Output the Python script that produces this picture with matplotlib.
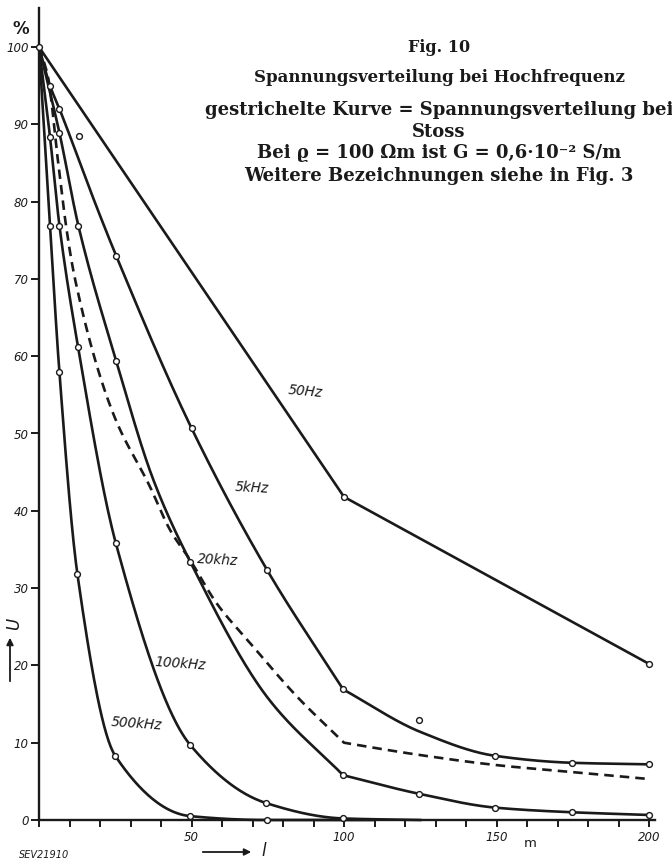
import numpy as np
import matplotlib
matplotlib.use("Agg")
import matplotlib.pyplot as plt

# ---------------- data ----------------
# l in m, U in %
x_50hz = [0, 100, 200]
u_50hz = [100, 41.8, 20.2]

x_5khz_a = [0, 3.6, 6.7, 19.5, 25.4, 50, 74.7, 99.7]
u_5khz_a = [100, 95, 92, 78.7, 72.9, 50.7, 32.4, 16.9]
x_5khz_b = [99.7, 125, 149.6, 174.8, 200]
u_5khz_b = [16.9, 11.4, 8.3, 7.4, 7.2]

x_20khz_a = [0, 6.7, 12.9, 25.3, 37.5, 49.6, 75.2, 99.7]
u_20khz_a = [100, 88.9, 76.9, 59.4, 44, 33.4, 15.7, 5.8]
x_20khz_b = [99.7, 124.5, 149.6, 174.8, 200]
u_20khz_b = [5.8, 3.4, 1.6, 1.0, 0.65]

x_100khz = [0, 3.6, 6.7, 12.8, 25.2, 49.6, 74.4, 99.7, 125]
u_100khz = [100, 88.4, 76.9, 61.2, 35.8, 9.7, 2.2, 0.2, 0]

x_500khz = [0, 3.6, 6.7, 12.6, 25, 49.6, 74.6, 110]
u_500khz = [100, 76.9, 57.9, 31.8, 8.3, 0.5, 0, 0]

x_stoss_a = [0, 3, 6, 9, 11.8, 24.3, 36.4, 43, 49.6, 58.3, 69.2, 84.5, 100]
u_stoss_a = [100, 96, 86, 76.5, 70, 52.6, 43.1, 37.5, 33.6, 28, 22.9, 16, 10]
x_stoss_b = [100, 107.4, 125, 150, 175, 200]
u_stoss_b = [10, 9.5, 8.4, 7.1, 6.2, 5.3]

# measured points (open circles)
mx_50hz = [0, 100, 200]
mu_50hz = [100, 41.8, 20.2]
mx_5khz = [3.6, 6.7, 25.4, 50, 74.7, 99.7, 149.6, 174.8, 200]
mu_5khz = [95, 92, 72.9, 50.7, 32.4, 16.9, 8.3, 7.4, 7.2]
mx_20khz = [6.7, 12.9, 25.3, 49.6, 99.7, 124.5, 149.6, 174.8, 200]
mu_20khz = [88.9, 76.9, 59.4, 33.4, 5.8, 3.4, 1.6, 1.0, 0.65]
mx_100khz = [3.6, 6.7, 12.8, 25.2, 49.6, 74.4, 99.7]
mu_100khz = [88.4, 76.9, 61.2, 35.8, 9.7, 2.2, 0.2]
mx_500khz = [3.6, 6.7, 12.6, 25, 49.6, 74.6]
mu_500khz = [76.9, 57.9, 31.8, 8.3, 0.5, 0]
mx_stray = [13, 124.6]
mu_stray = [88.5, 12.9]

curve_labels = ["50Hz", "5kHz", "20khz", "100kHz", "500kHz"]
label_x = [87.2, 69.8, 58.7, 46.2, 32.1]
label_u = [55.4, 42.9, 33.6, 20.2, 12.5]
label_rot = [-5, -3, -3, -4, -4]

y_ticks = list(range(0, 101, 10))
x_ticks = list(range(0, 201, 10))
x_ticklabels = {50: "50", 100: "100", 150: "150", 200: "200"}

title_lines = [
    "Fig. 10",
    "Spannungsverteilung bei Hochfrequenz",
    "gestrichelte Kurve = Spannungsverteilung bei",
    "Stoss",
    "Bei \u03f1 = 100 \u03a9m ist G = 0,6\u00b710\u207b\u00b2 S/m",
    "Weitere Bezeichnungen siehe in Fig. 3",
]
title_py = [48, 77, 110, 132, 153, 176]
title_size = [11.5, 12, 13, 13, 13, 13]


# ---------------- smooth rendering helper (monotone cubic) ----------------
def pchip(x, y, n=300):
    x = np.asarray(x, float)
    y = np.asarray(y, float)
    h = np.diff(x)
    d = np.diff(y) / h
    m = np.zeros_like(x)
    m[0] = d[0]
    m[-1] = d[-1]
    for k in range(1, len(x) - 1):
        if d[k - 1] * d[k] <= 0:
            m[k] = 0.0
        else:
            w1 = 2 * h[k] + h[k - 1]
            w2 = h[k] + 2 * h[k - 1]
            m[k] = (w1 + w2) / (w1 / d[k - 1] + w2 / d[k])
    xs = np.linspace(x[0], x[-1], n)
    idx = np.clip(np.searchsorted(x, xs) - 1, 0, len(x) - 2)
    t = (xs - x[idx]) / h[idx]
    h00 = 2 * t**3 - 3 * t**2 + 1
    h10 = t**3 - 2 * t**2 + t
    h01 = -2 * t**3 + 3 * t**2
    h11 = t**3 - t**2
    ys = h00 * y[idx] + h10 * h[idx] * m[idx] + h01 * y[idx + 1] + h11 * h[idx] * m[idx + 1]
    return xs, ys


# ---------------- figure ----------------
W, H = 672, 863
fig = plt.figure(figsize=(W / 100, H / 100), dpi=100)
fig.patch.set_facecolor("white")
ax = fig.add_axes([39 / W, 43 / H, 616.1 / W, 811.65 / H])
ax.set_xlim(0, 202)
ax.set_ylim(0, 105)
for s in ("top", "right"):
    ax.spines[s].set_visible(False)
for s in ("left", "bottom"):
    ax.spines[s].set_linewidth(1.7)
    ax.spines[s].set_color("#1a1a1a")

ink = "#1a1a1a"
lw = 1.9

ax.plot(x_50hz, u_50hz, color=ink, lw=lw, solid_joinstyle="miter", clip_on=False)
for xa, ua in [(x_5khz_a, u_5khz_a), (x_5khz_b, u_5khz_b),
               (x_20khz_a, u_20khz_a), (x_20khz_b, u_20khz_b),
               (x_100khz, u_100khz), (x_500khz, u_500khz)]:
    xs, ys = pchip(xa, ua)
    ax.plot(xs, ys, color=ink, lw=lw, clip_on=False)

xs1, ys1 = pchip(x_stoss_a, u_stoss_a)
xs2, ys2 = pchip(x_stoss_b, u_stoss_b)
ax.plot(np.concatenate([xs1, xs2[1:]]), np.concatenate([ys1, ys2[1:]]),
        color=ink, lw=lw, dashes=(3.6, 2.3))

mk = dict(marker="o", ls="none", ms=4.2, mfc="white", mec=ink, mew=1.0,
          clip_on=False, zorder=5)
for mx, mu in [(mx_50hz, mu_50hz), (mx_5khz, mu_5khz), (mx_20khz, mu_20khz),
               (mx_100khz, mu_100khz), (mx_500khz, mu_500khz), (mx_stray, mu_stray)]:
    ax.plot(mx, mu, **mk)

hand = dict(family="DejaVu Sans", style="italic", color=ink)
for txt, lx, lu, rot in zip(curve_labels, label_x, label_u, label_rot):
    ax.text(lx, lu, txt, ha="center", va="center", rotation=rot, fontsize=9.8, **hand)

# ticks
ax.set_yticks(y_ticks)
ax.set_yticklabels([str(v) for v in y_ticks])
ax.set_xticks(x_ticks)
ax.set_xticklabels([x_ticklabels.get(v, "") for v in x_ticks])
ax.tick_params(axis="y", direction="out", length=6, width=1.4, pad=1.5,
               labelsize=8.5, colors=ink)
ax.tick_params(axis="x", direction="out", length=5, width=1.4, pad=3,
               labelsize=8.5, colors=ink)
for lab in ax.get_xticklabels() + ax.get_yticklabels():
    lab.set_fontstyle("italic")

# axis annotations (figure pixel coordinates)
fig.text(530 / W, 1 - 843 / H, "m", fontsize=9.5, ha="center", va="center",
         family="DejaVu Sans", color=ink)
ax.annotate("", xy=(254, H - 852), xytext=(200, H - 852), xycoords="figure pixels",
            textcoords="figure pixels",
            arrowprops=dict(arrowstyle="-|>", color=ink, lw=1.3, mutation_scale=10))
fig.text(264 / W, 1 - 851 / H, "l", fontsize=12, ha="center", va="center", **hand)
ax.annotate("", xy=(10, H - 635), xytext=(10, H - 684), xycoords="figure pixels",
            textcoords="figure pixels",
            arrowprops=dict(arrowstyle="-|>", color=ink, lw=1.3, mutation_scale=10))
fig.text(14 / W, 1 - 624 / H, "U", fontsize=12, rotation=90, ha="center", va="center", **hand)
fig.text(21 / W, 1 - 29 / H, "%", fontsize=12, ha="center", va="center",
         family="DejaVu Sans", weight="bold", color=ink)
fig.text(44 / W, 1 - 855 / H, "SEV21910", fontsize=7, ha="center", va="center", **hand)

# title block
for line, py, fs in zip(title_lines, title_py, title_size):
    fig.text(439 / W, 1 - py / H, line, ha="center", va="center",
             fontsize=fs, family="DejaVu Serif", weight="bold", color=ink)

fig.savefig("out.png", dpi=100, facecolor="white")
